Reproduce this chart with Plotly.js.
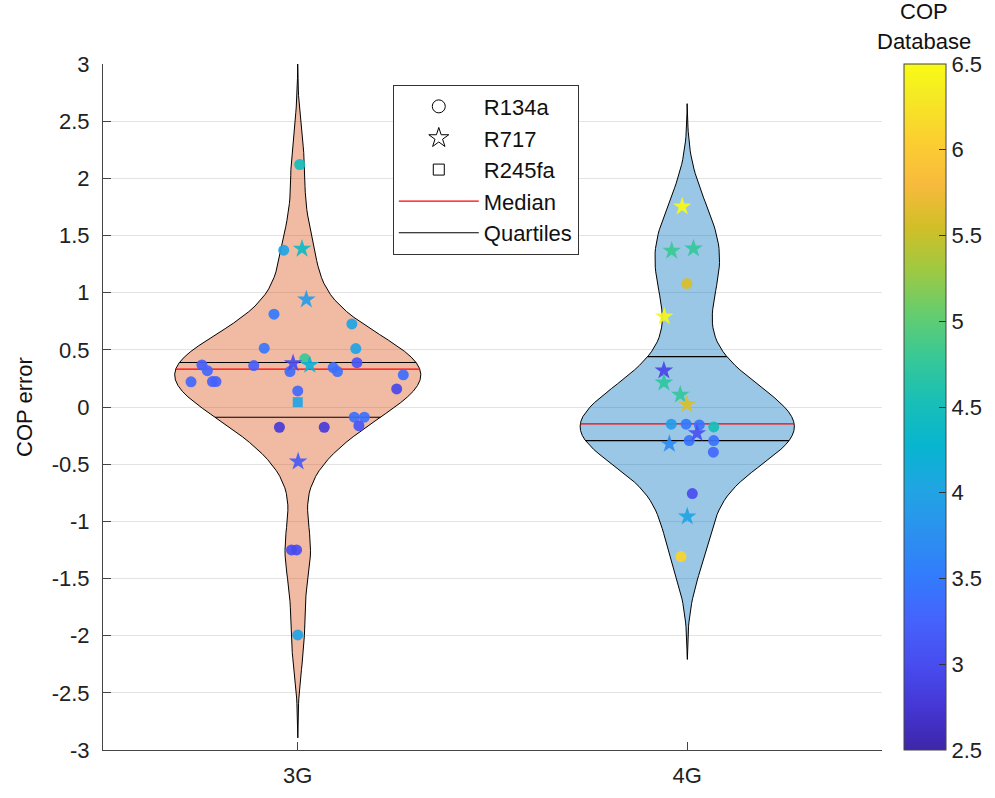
<!DOCTYPE html>
<html>
<head>
<meta charset="utf-8">
<script src="https://cdn.plot.ly/plotly-3.0.1.min.js"></script>
<style>html,body{margin:0;padding:0;background:#fff;}#chart{width:995px;height:798px;}</style>
</head>
<body>
<div id="chart"></div>
<script>
// ---------------- data ----------------
const groups = ['3G', '4G'];
const yTickVals = [-3, -2.5, -2, -1.5, -1, -0.5, 0, 0.5, 1, 1.5, 2, 2.5, 3];
const yTickText = ['-3', '-2.5', '-2', '-1.5', '-1', '-0.5', '0', '0.5', '1', '1.5', '2', '2.5', '3'];
const cbTickVals = [2.5, 3, 3.5, 4, 4.5, 5, 5.5, 6, 6.5];
const cbTickText = ['2.5', '3', '3.5', '4', '4.5', '5', '5.5', '6', '6.5'];

// 3G: COP error, jitter offset, database COP, refrigerant
const g3Err = [2.121, 1.372, 1.383, 0.940, 0.812, 0.727, 0.514, 0.511, 0.368, 0.318, 0.220, 0.222, 0.222, 0.362, 0.310, 0.383, 0.421, 0.368, 0.141, 0.042, 0.345, 0.310, 0.388, 0.281, 0.158, -0.089, -0.089, -0.163, -0.177, -0.177, -0.478, -1.250, -1.250, -1.994];
const g3Jit = [0.005, -0.036, 0.011, 0.022, -0.061, 0.139, -0.086, 0.149, -0.246, -0.232, -0.274, -0.219, -0.210, -0.113, -0.020, -0.012, 0.018, 0.031, 0.000, 0.000, 0.091, 0.102, 0.152, 0.271, 0.254, 0.145, 0.171, 0.157, -0.047, 0.068, 0.001, -0.016, -0.003, 0.000];
const g3Cop = [4.45, 4.0, 4.4, 3.9, 3.5, 4.0, 3.45, 4.0, 3.2, 3.3, 3.3, 3.25, 3.25, 3.2, 3.35, 3.0, 4.8, 4.2, 3.3, 4.0, 3.4, 3.4, 3.1, 3.35, 2.95, 3.4, 3.4, 3.1, 2.8, 2.8, 3.15, 3.0, 3.0, 4.0];
const g3Ref = ['R134a', 'R134a', 'R717', 'R717', 'R134a', 'R134a', 'R134a', 'R134a', 'R134a', 'R134a', 'R134a', 'R134a', 'R134a', 'R134a', 'R134a', 'R717', 'R134a', 'R717', 'R134a', 'R245fa', 'R134a', 'R134a', 'R134a', 'R134a', 'R134a', 'R134a', 'R134a', 'R134a', 'R134a', 'R134a', 'R717', 'R134a', 'R134a', 'R134a'];

// 4G
const g4Err = [1.753, 1.366, 1.386, 1.080, 0.791, 0.318, 0.213, 0.106, 0.021, -0.150, -0.150, -0.157, -0.174, -0.229, -0.323, -0.294, -0.294, -0.395, -0.757, -0.958, -1.308];
const g4Jit = [-0.013, -0.040, 0.016, -0.001, -0.059, -0.060, -0.060, -0.018, -0.001, -0.041, -0.003, 0.031, 0.068, 0.025, -0.046, 0.005, 0.068, 0.067, 0.013, 0.000, -0.016];
const g4Cop = [6.5, 4.8, 4.75, 5.6, 6.45, 2.9, 4.7, 4.75, 5.6, 3.9, 3.5, 3.4, 4.5, 3.05, 3.7, 3.4, 3.4, 3.3, 3.0, 4.0, 6.1];
const g4Ref = ['R717', 'R717', 'R717', 'R134a', 'R717', 'R717', 'R717', 'R717', 'R717', 'R134a', 'R134a', 'R134a', 'R134a', 'R717', 'R717', 'R134a', 'R134a', 'R134a', 'R134a', 'R717', 'R134a'];

// medians and quartiles
const medians = [0.331, -0.148];
const upperQuartiles = [0.389, 0.441];
const lowerQuartiles = [-0.089, -0.294];

// ---------------- styling ----------------
const parula = [
  [0.000, 'rgb(62,38,168)'], [0.0635, 'rgb(69,55,213)'], [0.127, 'rgb(72,77,240)'],
  [0.1905, 'rgb(69,99,253)'], [0.254, 'rgb(50,124,252)'], [0.3175, 'rgb(43,145,239)'],
  [0.381, 'rgb(32,165,227)'], [0.444, 'rgb(8,181,208)'], [0.508, 'rgb(25,191,182)'],
  [0.571, 'rgb(55,200,151)'], [0.635, 'rgb(100,205,111)'], [0.698, 'rgb(157,201,67)'],
  [0.762, 'rgb(209,191,39)'], [0.825, 'rgb(248,186,61)'], [0.889, 'rgb(252,207,48)'],
  [0.952, 'rgb(245,233,36)'], [1.000, 'rgb(249,251,21)']
];
const violinFill = ['rgba(217,83,25,0.4)', 'rgba(0,114,189,0.4)'];
const halfWidth = [0.316, 0.275];
const bandwidth = [0.3, 0.3];
const FONT = 'Liberation Sans, Arial, Helvetica, sans-serif';
const FS = 22;
const symbolOf = {R134a: 'circle', R717: 'star', R245fa: 'square'};
const sizeOf = {R134a: 11, R717: 14, R245fa: 10};

function kde(vals, bw, t) {
  let s = 0;
  for (const v of vals) { const z = (t - v) / bw; s += Math.exp(-0.5 * z * z); }
  return s / (vals.length * bw * Math.sqrt(2 * Math.PI));
}

const traces = [];
const errs = [g3Err, g4Err], jits = [g3Jit, g4Jit], cops = [g3Cop, g4Cop], refs = [g3Ref, g4Ref];

// violins
const widthAt = [];
for (let g = 0; g < 2; g++) {
  const vals = errs[g], bw = bandwidth[g], c = g + 1;
  const lo = Math.min(...vals) - 3 * bw, hi = Math.max(...vals) + 3 * bw;
  const N = 120, ts = [], ds = [];
  for (let i = 0; i < N; i++) { const t = lo + (hi - lo) * i / (N - 1); ts.push(t); ds.push(kde(vals, bw, t)); }
  const dmax = Math.max(...ds);
  widthAt.push(v => halfWidth[g] * kde(vals, bw, v) / dmax);
  const px = [], py = [];
  for (let i = 0; i < N; i++) { px.push(c + halfWidth[g] * ds[i] / dmax); py.push(ts[i]); }
  for (let i = N - 1; i >= 0; i--) { px.push(c - halfWidth[g] * ds[i] / dmax); py.push(ts[i]); }
  px.push(px[0]); py.push(py[0]);
  traces.push({x: px, y: py, type: 'scatter', mode: 'lines', fill: 'toself', fillcolor: violinFill[g],
    line: {color: 'black', width: 1}, showlegend: false, hoverinfo: 'skip'});
}

// median and quartile lines
const medX = [], medY = [], qX = [], qY = [];
for (let g = 0; g < 2; g++) {
  const c = g + 1;
  const wm = widthAt[g](medians[g]);
  medX.push(c - wm, c + wm, null); medY.push(medians[g], medians[g], null);
  for (const q of [upperQuartiles[g], lowerQuartiles[g]]) {
    const wq = widthAt[g](q);
    qX.push(c - wq, c + wq, null); qY.push(q, q, null);
  }
}
traces.push({x: qX, y: qY, type: 'scatter', mode: 'lines', name: 'Quartiles', line: {color: 'black', width: 1.1}, legendrank: 5, hoverinfo: 'skip'});
traces.push({x: medX, y: medY, type: 'scatter', mode: 'lines', name: 'Median', line: {color: '#ff0000', width: 1.3}, legendrank: 4, hoverinfo: 'skip'});

// data markers
let scaleShown = false;
for (let g = 0; g < 2; g++) {
  for (const r of ['R134a', 'R717', 'R245fa']) {
    const xs = [], ys = [], cs = [];
    for (let i = 0; i < errs[g].length; i++) {
      if (refs[g][i] !== r) continue;
      xs.push(g + 1 + jits[g][i]); ys.push(errs[g][i]); cs.push(cops[g][i]);
    }
    if (!xs.length) continue;
    const m = {symbol: symbolOf[r], size: sizeOf[r], color: cs, colorscale: parula, cmin: 2.5, cmax: 6.5,
      opacity: 0.92, line: {width: 0}};
    if (!scaleShown) {
      m.showscale = true;
      m.colorbar = {
        thickness: 42, thicknessmode: 'pixels', len: 685.7, lenmode: 'pixels',
        x: 1.0277, xanchor: 'left', xpad: 0, y: 0.5, yanchor: 'middle', ypad: 0,
        outlinewidth: 1, outlinecolor: '#444', ticks: 'inside', ticklen: 7, tickcolor: '#333',
        tickvals: cbTickVals, ticktext: cbTickText, tickfont: {family: FONT, size: FS, color: '#222'}
      };
      scaleShown = true;
    }
    traces.push({x: xs, y: ys, type: 'scatter', mode: 'markers', marker: m, showlegend: false, hoverinfo: 'y'});
  }
}

// legend-only symbol entries
const legendSymbols = [['R134a', 'circle-open', 13, 1], ['R717', 'star-open', 15, 2], ['R245fa', 'square-open', 11, 3]];
for (const [nm, sym, sz, rk] of legendSymbols) {
  traces.push({x: [null], y: [null], type: 'scatter', mode: 'markers', name: nm, legendrank: rk,
    marker: {symbol: sym, size: sz, color: 'black', line: {color: 'black', width: 1}}});
}

const layout = {
  width: 995, height: 798,
  margin: {l: 103.3, r: 113.3, t: 64.3, b: 48, pad: 0, autoexpand: false},
  paper_bgcolor: 'white', plot_bgcolor: 'white',
  font: {family: FONT, size: FS, color: '#222'},
  showlegend: true,
  legend: {x: 0.372, y: 0.970, xanchor: 'left', yanchor: 'top', bgcolor: 'white',
    bordercolor: '#333', borderwidth: 1, font: {family: FONT, size: FS, color: '#111'}, itemwidth: 80},
  xaxis: {range: [0.5, 2.5], tickvals: [1, 2], ticktext: groups, showgrid: false, zeroline: false,
    showline: true, linecolor: '#444', linewidth: 1, ticks: 'inside', ticklen: 8, tickcolor: '#444',
    ticklabelstandoff: 6, tickfont: {family: FONT, size: FS, color: '#222'}},
  yaxis: {range: [-3, 3], tickvals: yTickVals, ticktext: yTickText, showgrid: true, gridcolor: '#e3e3e3',
    zeroline: false, showline: true, linecolor: '#444', linewidth: 1, ticks: 'inside', ticklen: 8, tickcolor: '#444',
    ticklabelstandoff: 8, tickfont: {family: FONT, size: FS, color: '#222'},
    title: {text: 'COP error', font: {family: FONT, size: FS, color: '#111'}, standoff: 12}},
  annotations: [
    {text: 'COP', xref: 'paper', yref: 'paper', x: 1.0543, y: 1.0763, xanchor: 'center', yanchor: 'middle',
      showarrow: false, font: {family: FONT, size: FS, color: '#111'}},
    {text: 'Database', xref: 'paper', yref: 'paper', x: 1.0543, y: 1.0325, xanchor: 'center', yanchor: 'middle',
      showarrow: false, font: {family: FONT, size: FS, color: '#111'}}
  ]
};

Plotly.newPlot('chart', traces, layout, {displayModeBar: false, staticPlot: true});
</script>
</body>
</html>
